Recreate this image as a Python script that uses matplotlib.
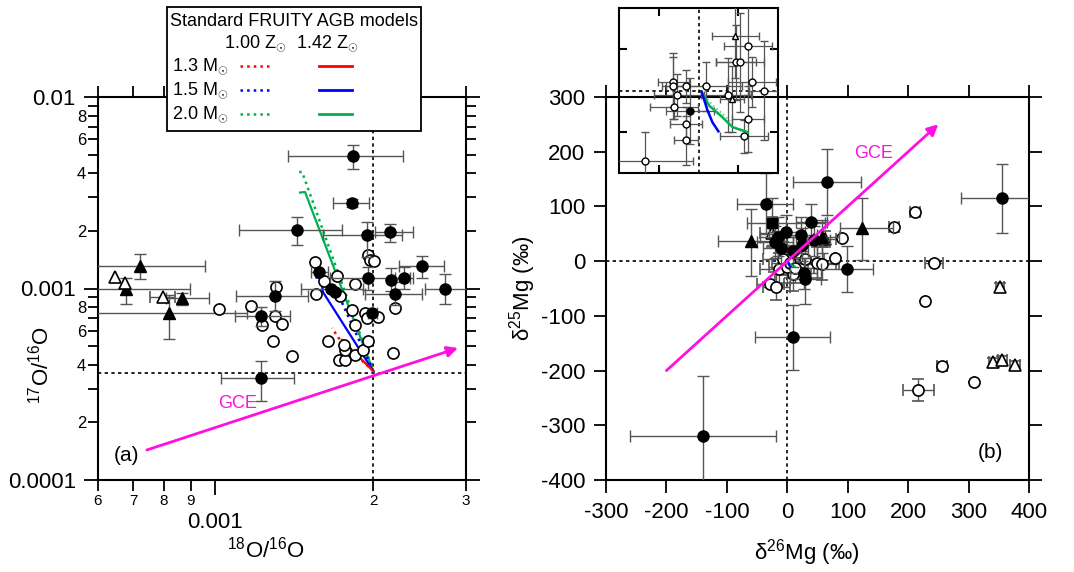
import numpy as np
import matplotlib
matplotlib.use('Agg')
import matplotlib.pyplot as plt
from matplotlib.patches import Rectangle
from matplotlib.lines import Line2D

plt.rcParams['font.family'] = ['Liberation Sans', 'DejaVu Sans']
plt.rcParams['mathtext.fontset'] = 'custom'
plt.rcParams['mathtext.rm'] = 'Liberation Sans'
plt.rcParams['mathtext.it'] = 'Liberation Sans:italic'
plt.rcParams['mathtext.bf'] = 'Liberation Sans:bold'
plt.rcParams['axes.unicode_minus'] = False

# ---------------- Panel (a): oxygen ratios (units of 1e-3) ----------------
a_fc_x   = [1.830, 1.822, 1.433, 1.946, 2.152, 2.475, 1.954, 2.161, 2.288, 1.578, 2.737, 2.199, 1.301, 1.663, 1.692, 1.224, 1.224, 1.989]
a_fc_y   = [4.92, 2.80, 2.02, 1.90, 1.97, 1.31, 1.13, 1.11, 1.13, 1.22, 0.994, 0.936, 0.914, 0.994, 0.958, 0.719, 0.341, 0.745]
a_fc_xlo = [1.378, 1.677, 1.111, 1.605, 2.015, 2.238, 1.655, 2.161, 2.20, 1.52, 2.508, 1.929, 1.097, 1.46, 1.692, 1.093, 1.028, 1.95]
a_fc_xhi = [2.278, 1.963, 1.744, 2.267, 2.380, 2.725, 2.348, 2.161, 2.38, 1.64, 3.20, 2.475, 1.503, 1.91, 1.692, 1.390, 1.414, 2.03]
a_fc_ylo = [4.21, 2.67, 1.69, 1.46, 1.75, 1.13, 0.98, 0.97, 1.00, 1.22, 0.830, 0.82, 0.763, 0.994, 0.958, 0.637, 0.259, 0.745]
a_fc_yhi = [5.61, 2.93, 2.36, 2.22, 2.17, 1.48, 1.29, 1.28, 1.29, 1.22, 1.19, 1.08, 1.09, 0.994, 0.958, 0.800, 0.418, 0.745]

a_oc_x = [1.018, 1.172, 1.307, 1.229, 1.301, 1.342, 1.290, 1.402, 1.550, 1.612, 1.707, 1.557, 1.729, 1.846, 1.954, 1.972,
          2.006, 1.641, 1.822, 1.846, 1.722, 1.767, 1.767, 1.760, 1.846, 1.912, 1.954, 1.929, 1.946, 2.042, 2.180, 2.199]
a_oc_y = [0.781, 0.810, 1.02, 0.645, 0.719, 0.653, 0.532, 0.444, 1.375, 1.094, 1.162, 0.936, 0.914, 1.055, 1.496, 1.408,
          1.391, 0.532, 0.77, 0.645, 0.423, 0.423, 0.477, 0.507, 0.449, 0.477, 0.532, 0.745, 0.702, 0.710, 0.460, 0.791]

a_ft_x   = [0.721, 0.678, 0.866, 0.818]
a_ft_y   = [1.31, 0.99, 0.892, 0.745]
a_ft_xlo = [0.50, 0.50, 0.808, 0.50]
a_ft_xhi = [0.958, 0.897, 0.975, 1.151]
a_ft_ylo = [1.12, 0.83, 0.82, 0.545]
a_ft_yhi = [1.51, 1.13, 0.95, 0.93]

a_ot_x   = [0.646, 0.675, 0.797]
a_ot_y   = [1.15, 1.07, 0.903]
a_ot_xlo = [0.646, 0.675, 0.753]
a_ot_xhi = [0.646, 0.675, 0.840]

# FRUITY model tracks, panel (a)
red_dot_x,   red_dot_y   = [2.00, 1.72, 1.670], [0.37, 0.55, 0.622]
red_sol_x,   red_sol_y   = [2.00, 1.744], [0.37, 0.539]
blue_dot_x,  blue_dot_y  = [2.00, 1.677], [0.37, 1.07]
blue_sol_x,  blue_sol_y  = [2.00, 1.605, 1.591, 1.56], [0.37, 0.958, 1.13, 1.14]
green_dot_x, green_dot_y = [2.00, 1.465, 1.433], [0.37, 4.06, 4.06]
green_sol_x, green_sol_y = [2.00, 1.484, 1.452], [0.37, 3.19, 3.17]

solar_18, solar_17 = 2.0, 0.36
gce_a_x, gce_a_y = [0.743, 2.897], [0.1435, 0.489]

# ---------------- Panel (b): Mg isotopes (permil) ----------------
b_fc_x   = [66, -36, 356, 40, 98, 30, 10, -139, -15, -2, -10, 22, 25, 10, 28, 45, -20]
b_fc_y   = [144, 104, 115, 72, -14, -32, -139, -319, 44, 53, 24, 48, 29, 18, -22, 38, 35]
b_fc_xlo = [10, -83, 288, 15, 55, 5, -53, -260, -45, -30, -40, -5, 0, -15, 5, 20, -50]
b_fc_xhi = [122, 10, 405, 65, 142, 55, 71, -18, 15, 30, 20, 50, 50, 35, 50, 70, 10]
b_fc_ylo = [85, 50, 51, 40, -57, -78, -199, -420, 10, 25, -5, 15, 0, -10, -50, 10, 5]
b_fc_yhi = [205, 161, 177, 105, 27, 5, -80, -210, 80, 85, 55, 80, 60, 45, 5, 65, 65]

b_fs_x, b_fs_y = [-25], [70]
b_fs_xlo, b_fs_xhi, b_fs_ylo, b_fs_yhi = [-66], [63], [30], [115]

b_ft_x   = [-60, 124, 57]
b_ft_y   = [37, 60, 44]
b_ft_xlo = [-114, 88, 30]
b_ft_xhi = [-17, 175, 85]
b_ft_ylo = [-27, 2, 15]
b_ft_yhi = [95, 115, 75]

b_ot_x   = [-26, 63, 352, 341, 356, 377]
b_ot_y   = [51, 40, -48, -185, -181, -190]
b_ot_xlo = [-45, 45, 345, 333, 348, 369]
b_ot_xhi = [-5, 80, 359, 349, 364, 385]
b_ot_ylo = [25, 25, -56, -193, -189, -198]
b_ot_yhi = [80, 55, -40, -177, -173, -182]

b_oc_x   = [212, 177, 91, 79, 242, 50, 58, 30, -7, -13, 10, -28, -18, 228, 256, 217, 309, 0, 5, 13]
b_oc_y   = [90, 62, 42, 6, -4, -4, -6, 4, 4, -15, -24, -42, -47, -73, -192, -236, -221, -11, -4, -13]
b_oc_xlo = [203, 169, 91, 79, 228, 20, 30, 0, -40, -45, -20, -50, -40, 228, 248, 192, 309, -30, -25, -15]
b_oc_xhi = [220, 185, 91, 79, 258, 80, 85, 60, 25, 20, 40, -5, 5, 228, 264, 242, 309, 30, 35, 45]
b_oc_ylo = [90, 62, 42, 6, -4, -30, -35, -25, -25, -45, -55, -42, -71, -73, -200, -256, -221, -40, -30, -40]
b_oc_yhi = [90, 62, 42, 6, -4, 25, 25, 35, 35, 15, 5, -42, -20, -73, -184, -216, -221, 20, 25, 15]

gce_b_x, gce_b_y = [-200, 250], [-200, 250]

# model tracks, panel (b) and inset
mg_green_x, mg_green_y = [0.8, 2.7, 5.6, 8.6, 12.4], [-0.4, -3.7, -6.1, -8.9, -10.1]
mg_gdot_x, mg_gdot_y = [0.8, 3.4, 6.0, 8.0], [-0.4, -3.4, -5.6, -7.4]
mg_blue_x, mg_blue_y = [0.8, 2.3, 3.5, 5.0], [-0.4, -4.9, -7.7, -9.9]

# inset data
in_oc_x = [-6.3, -6.3, -5.3, -3.1, 2.0, -6.2, -3.1, -3.1, -13.5, 7.3, 9.4, 10.4, 12.5, 13.5, 16.6, 12.5, 11.4]
in_oc_y = [2.0, 1.0, -1.1, 1.0, 1.0, -4.0, -8.1, -12.1, -17.1, -1.1, 6.8, 6.8, 10.9, 2.0, 0.0, -7.0, -11.1]
in_oc_xe = [4, 3, 6, 5, 9, 6, 4, 3, 12, 6, 5, 6, 6, 6, 4, 4, 6]
in_oc_ye = [6, 8, 5, 4, 6, 3, 4, 6, 7, 9, 9, 12, 12, 6, 12, 8, 4]
in_ot_x, in_ot_y = [9.3, 8.4], [13.1, -2.1]
in_ot_xe, in_ot_ye = [6, 3], [10, 8]
in_fc_x, in_fc_y = [-2.1], [-5.0]
in_fc_xe, in_fc_ye = [6], [8]

# ---------------- Figure ----------------
W, H = 1074, 572
fig = plt.figure(figsize=(W / 100, H / 100), dpi=100)
MAG = '#ff10e0'
RED, BLUE, GREEN = '#ff0000', '#0000ff', '#00b050'
ECOL = '#555555'
eb_kw = dict(ecolor=ECOL, elinewidth=1.0, capsize=4, capthick=1.0, ls='none')


def ax_rect(l, t, r, b):
    return [l / W, 1 - b / H, (r - l) / W, (b - t) / H]


def lohi(v, lo, hi):
    v, lo, hi = np.asarray(v, float), np.asarray(lo, float), np.asarray(hi, float)
    return np.vstack([v - lo, hi - v])


# ----- panel (a)
axA = fig.add_axes(ax_rect(98, 97, 466, 480))
s = 1e-3
axA.set_xscale('log')
axA.set_yscale('log')

axA.axvline(solar_18 * s, color='k', ls=(0, (2, 2)), lw=1.2, zorder=1)
axA.axhline(solar_17 * s, color='k', ls=(0, (2, 2)), lw=1.2, zorder=1)

axA.plot(np.array(green_dot_x) * s, np.array(green_dot_y) * s, color=GREEN, ls=':', lw=1.8, zorder=3)
axA.plot(np.array(green_sol_x) * s, np.array(green_sol_y) * s, color=GREEN, lw=1.6, zorder=3)
axA.plot(np.array(blue_dot_x) * s, np.array(blue_dot_y) * s, color=BLUE, ls=':', lw=1.8, zorder=3)
axA.plot(np.array(blue_sol_x) * s, np.array(blue_sol_y) * s, color=BLUE, lw=1.6, zorder=3)
axA.plot(np.array(red_dot_x) * s, np.array(red_dot_y) * s, color=RED, ls=':', lw=1.8, zorder=3)
axA.plot(np.array(red_sol_x) * s, np.array(red_sol_y) * s, color=RED, lw=1.6, zorder=3)

axA.errorbar(np.array(a_ft_x) * s, np.array(a_ft_y) * s,
             xerr=lohi(a_ft_x, a_ft_xlo, a_ft_xhi) * s, yerr=lohi(a_ft_y, a_ft_ylo, a_ft_yhi) * s,
             marker='^', ms=8, mfc='k', mec='k', zorder=4, **eb_kw)
axA.errorbar(np.array(a_ot_x) * s, np.array(a_ot_y) * s,
             xerr=lohi(a_ot_x, a_ot_xlo, a_ot_xhi) * s,
             marker='^', ms=8, mfc='white', mec='k', mew=1.2, zorder=4, **eb_kw)
axA.plot(np.array(a_oc_x) * s, np.array(a_oc_y) * s, 'o', ms=8, mfc='white', mec='k', mew=1.2, zorder=5)
axA.errorbar(np.array(a_fc_x) * s, np.array(a_fc_y) * s,
             xerr=lohi(a_fc_x, a_fc_xlo, a_fc_xhi) * s, yerr=lohi(a_fc_y, a_fc_ylo, a_fc_yhi) * s,
             marker='o', ms=8, mfc='k', mec='k', zorder=6, **eb_kw)

axA.annotate('', xy=(gce_a_x[1] * s, gce_a_y[1] * s), xytext=(gce_a_x[0] * s, gce_a_y[0] * s),
             arrowprops=dict(arrowstyle='-|>', color=MAG, lw=2.0, mutation_scale=16,
                             shrinkA=0, shrinkB=0), zorder=7)
axA.text(1.107e-3, 2.52e-4, 'GCE', color=MAG, fontsize=13, ha='center', va='center')
axA.text(0.681e-3, 1.35e-4, '(a)', fontsize=15, ha='center', va='center')

axA.set_xlim(6e-4, 3e-3)
axA.set_ylim(1e-4, 1e-2)
axA.set_xticks([1e-3], ['0.001'])
axA.set_xticks([6e-4, 7e-4, 8e-4, 9e-4, 2e-3, 3e-3], ['6', '7', '8', '9', '2', '3'], minor=True)
axA.set_yticks([1e-4, 1e-3, 1e-2], ['0.0001', '0.001', '0.01'])
yminor = [k * 1e-4 for k in range(2, 10)] + [k * 1e-3 for k in range(2, 10)]
axA.set_yticks(yminor, ['2', '', '4', '', '6', '', '8', ''] * 2, minor=True)
axA.tick_params(which='both', direction='out', top=True, right=True, width=1.3)
axA.tick_params(axis='y', which='major', length=10, pad=6, labelsize=16)
axA.tick_params(axis='y', which='minor', length=7, pad=1.5, labelsize=12)
axA.tick_params(axis='x', which='major', length=11, pad=12, labelsize=16)
axA.tick_params(axis='x', which='minor', length=8, pad=2, labelsize=11)
for sp in axA.spines.values():
    sp.set_linewidth(1.5)
axA.set_xlabel('$^{18}$O/$^{16}$O', fontsize=16)
axA.xaxis.set_label_coords(0.457, -0.148)
axA.set_ylabel('$^{17}$O/$^{16}$O', fontsize=16)
axA.yaxis.set_label_coords(-0.122, 0.30)

# ----- panel (b)
axB = fig.add_axes(ax_rect(606, 97, 1029, 480))
axB.axvline(0, color='k', ls=(0, (2, 2)), lw=1.2, zorder=1)
axB.axhline(0, color='k', ls=(0, (2, 2)), lw=1.2, zorder=1)

axB.errorbar(b_oc_x, b_oc_y, xerr=lohi(b_oc_x, b_oc_xlo, b_oc_xhi), yerr=lohi(b_oc_y, b_oc_ylo, b_oc_yhi),
             marker='o', ms=8, mfc='white', mec='k', mew=1.2, zorder=4, **eb_kw)
axB.errorbar(b_ot_x, b_ot_y, xerr=lohi(b_ot_x, b_ot_xlo, b_ot_xhi), yerr=lohi(b_ot_y, b_ot_ylo, b_ot_yhi),
             marker='^', ms=8, mfc='white', mec='k', mew=1.2, zorder=4, **eb_kw)
axB.errorbar(b_ft_x, b_ft_y, xerr=lohi(b_ft_x, b_ft_xlo, b_ft_xhi), yerr=lohi(b_ft_y, b_ft_ylo, b_ft_yhi),
             marker='^', ms=8, mfc='k', mec='k', zorder=5, **eb_kw)
axB.errorbar(b_fs_x, b_fs_y, xerr=lohi(b_fs_x, b_fs_xlo, b_fs_xhi), yerr=lohi(b_fs_y, b_fs_ylo, b_fs_yhi),
             marker='s', ms=7, mfc='k', mec='k', zorder=5, **eb_kw)
axB.errorbar(b_fc_x, b_fc_y, xerr=lohi(b_fc_x, b_fc_xlo, b_fc_xhi), yerr=lohi(b_fc_y, b_fc_ylo, b_fc_yhi),
             marker='o', ms=8, mfc='k', mec='k', zorder=5, **eb_kw)
axB.plot(mg_green_x, mg_green_y, color=GREEN, lw=1.6, zorder=6)
axB.plot(mg_blue_x, mg_blue_y, color=BLUE, lw=1.6, zorder=6)

axB.annotate('', xy=(gce_b_x[1], gce_b_y[1]), xytext=(gce_b_x[0], gce_b_y[0]),
             arrowprops=dict(arrowstyle='-|>', color=MAG, lw=2.0, mutation_scale=16,
                             shrinkA=0, shrinkB=0), zorder=7)
axB.text(142, 196, 'GCE', color=MAG, fontsize=13, ha='center', va='center')
axB.text(336, -349, '(b)', fontsize=15, ha='center', va='center')

axB.set_xlim(-300, 400)
axB.set_ylim(-400, 300)
axB.set_xticks(np.arange(-300, 401, 100))
axB.set_yticks(np.arange(-400, 301, 100))
axB.tick_params(which='both', direction='out', top=True, right=True, width=1.3, length=9, labelsize=16)
axB.tick_params(axis='x', pad=7)
axB.tick_params(axis='y', pad=6)
for sp in axB.spines.values():
    sp.set_linewidth(1.5)
axB.set_xlabel('δ$^{26}$Mg (‰)', fontsize=16)
axB.xaxis.set_label_coords(0.475, -0.148)
axB.set_ylabel('δ$^{25}$Mg (‰)', fontsize=16)
axB.yaxis.set_label_coords(-0.161, 0.5)

# ----- inset
axI = fig.add_axes(ax_rect(619, 8, 778, 173))
axI.set_facecolor('none')
axI.axvline(0, color='k', ls=(0, (2, 2)), lw=1.2, zorder=1)
axI.axhline(0, color='k', ls=(0, (2, 2)), lw=1.2, zorder=1)
ieb = dict(ecolor=ECOL, elinewidth=0.9, capsize=3, capthick=0.9, ls='none')
axI.errorbar(in_oc_x, in_oc_y, xerr=in_oc_xe, yerr=in_oc_ye, marker='o', ms=5, mfc='white',
             mec='k', mew=1.0, zorder=4, **ieb)
axI.errorbar(in_ot_x, in_ot_y, xerr=in_ot_xe, yerr=in_ot_ye, marker='^', ms=5, mfc='white',
             mec='k', mew=1.0, zorder=4, **ieb)
axI.errorbar(in_fc_x, in_fc_y, xerr=in_fc_xe, yerr=in_fc_ye, marker='o', ms=5, mfc='k',
             mec='k', zorder=4, **ieb)
axI.plot(mg_gdot_x, mg_gdot_y, color='#66cc88', ls=':', lw=1.2, zorder=5)
axI.plot(mg_green_x, mg_green_y, color=GREEN, lw=1.8, zorder=5)
axI.plot(mg_blue_x, mg_blue_y, color=BLUE, lw=1.8, zorder=5)
axI.set_xlim(-20, 20)
axI.set_ylim(-20, 20)
axI.set_xticks([-10, 10])
axI.set_yticks([-10, 10])
axI.tick_params(which='both', direction='in', top=True, right=True, length=6, width=1.5,
                labelbottom=False, labelleft=False)
for sp in axI.spines.values():
    sp.set_linewidth(1.5)

# ----- legend box for model tracks (figure coordinates)
def fx(px):
    return px / W


def fy(py):
    return 1 - py / H


fig.add_artist(Rectangle((fx(167), fy(131)), fx(421) - fx(167), fy(7) - fy(131),
                         transform=fig.transFigure, fc='white', ec='black', lw=1.3, zorder=10))
fig.text(fx(294.5), fy(22), 'Standard FRUITY AGB models', fontsize=13, ha='center', va='center', zorder=11)
fig.text(fx(255), fy(43), '1.00 Z$_{\\odot}$', fontsize=13, ha='center', va='center', zorder=11)
fig.text(fx(327), fy(43), '1.42 Z$_{\\odot}$', fontsize=13, ha='center', va='center', zorder=11)
rows = [('1.3 M$_{\\odot}$', RED, 66), ('1.5 M$_{\\odot}$', BLUE, 90), ('2.0 M$_{\\odot}$', GREEN, 114)]
for lab, col, py in rows:
    fig.text(fx(172), fy(py), lab, fontsize=13, ha='left', va='center', zorder=11)
    fig.add_artist(Line2D([fx(240), fx(273)], [fy(py), fy(py)], transform=fig.transFigure,
                          color=col, ls=':', lw=1.8, zorder=11))
    fig.add_artist(Line2D([fx(319), fx(352)], [fy(py), fy(py)], transform=fig.transFigure,
                          color=col, lw=2.0, zorder=11))

fig.savefig('out.png', dpi=100)
